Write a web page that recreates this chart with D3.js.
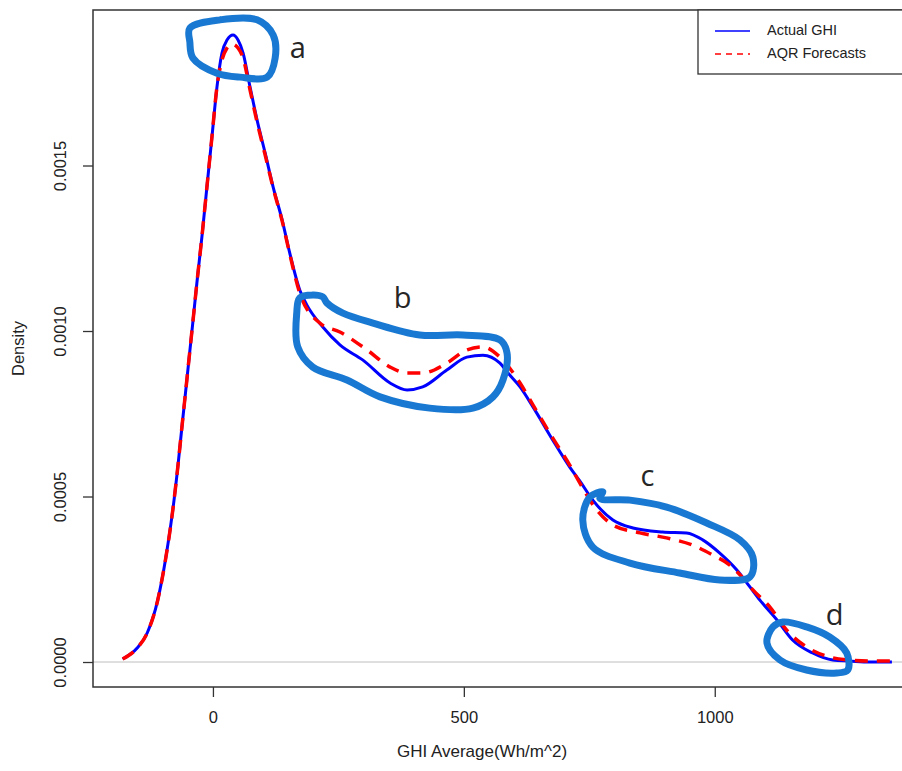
<!DOCTYPE html>
<html>
<head>
<meta charset="utf-8">
<script src="https://cdn.jsdelivr.net/npm/d3@7"></script>
<style>
  html, body { margin: 0; padding: 0; background: #fff; }
  svg { display: block; font-family: "Liberation Sans", Arial, sans-serif; }
</style>
</head>
<body>
<div id="chart"></div>
<script>
// density curves (GHI in Wh/m^2, density)
var actualX = [-180, -151, -131, -110, -94, -80, -70, -62, -52, -46, -40, -32, -22, -12, -2, 8, 18, 28, 40, 50, 60, 74, 88, 104, 120, 138, 153, 173, 187, 219, 253, 299, 353, 387, 418, 466, 506, 538, 572, 588, 612, 638, 677, 711, 731, 757, 797, 837, 896, 944, 976, 1010, 1044, 1070, 1090, 1124, 1155, 1195, 1235, 1269, 1309, 1353];
var actualY = [0.0000091, 0.0000423, 0.0000876, 0.000187, 0.000314, 0.000459, 0.000589, 0.000707, 0.000852, 0.000940, 0.001027, 0.001145, 0.001284, 0.001435, 0.001586, 0.001737, 0.001840, 0.001879, 0.001894, 0.001879, 0.001840, 0.001737, 0.001637, 0.001538, 0.001435, 0.001335, 0.001236, 0.001124, 0.001079, 0.001012, 0.000958, 0.000912, 0.000843, 0.000822, 0.000831, 0.000882, 0.000921, 0.000927, 0.000903, 0.000873, 0.000831, 0.000770, 0.000671, 0.000589, 0.000547, 0.000489, 0.000429, 0.000405, 0.000393, 0.000390, 0.000369, 0.000329, 0.000278, 0.000227, 0.000187, 0.000127, 0.0000665, 0.0000272, 0.000006, 0.000003, 0, 0];

var forecastX = [-180, -151, -131, -110, -94, -80, -70, -62, -52, -46, -40, -32, -22, -12, -2, 8, 18, 28, 38, 50, 60, 74, 88, 104, 120, 138, 153, 173, 213, 253, 307, 353, 387, 418, 466, 506, 538, 572, 612, 638, 677, 711, 731, 765, 797, 851, 904, 956, 996, 1030, 1056, 1076, 1110, 1143, 1183, 1229, 1269, 1309, 1353];
var forecastY = [0.0000091, 0.0000423, 0.0000876, 0.000187, 0.000314, 0.000459, 0.000589, 0.000707, 0.000852, 0.000940, 0.001027, 0.001145, 0.001284, 0.001435, 0.001586, 0.001737, 0.001819, 0.001855, 0.001867, 0.001855, 0.001825, 0.001728, 0.001631, 0.001532, 0.001432, 0.001332, 0.001233, 0.001115, 0.001024, 0.000997, 0.000943, 0.000891, 0.000873, 0.000873, 0.000903, 0.000943, 0.000952, 0.000921, 0.000843, 0.000776, 0.000677, 0.000595, 0.000541, 0.000459, 0.000414, 0.000390, 0.000375, 0.000353, 0.000323, 0.000293, 0.000254, 0.000218, 0.000166, 0.0000967, 0.0000453, 0.0000151, 0.000006, 0.000003, 0.000003];

var xTicks = [0, 500, 1000];
var xTickLabels = ["0", "500", "1000"];
var yTicks = [0, 0.0005, 0.0010, 0.0015];
var yTickLabels = ["0.0000", "0.0005", "0.0010", "0.0015"];
var seriesNames = ["Actual GHI", "AQR Forecasts"];

// hand-drawn highlight loops, in data units
var loopA = [[-46, 0.001915], [14, 0.00194], [88, 0.00194], [120, 0.001894], [124, 0.001825], [108, 0.001767], [54, 0.001767], [8, 0.001779], [-40, 0.001825], [-46, 0.001873]];
var loopB = [[219, 0.001103], [199, 0.001109], [173, 0.0011], [167, 0.001054], [169, 0.000952], [199, 0.000891], [267, 0.000852], [333, 0.000801], [432, 0.000767], [518, 0.000767], [558, 0.000801], [578, 0.000852], [586, 0.000934], [572, 0.000973], [498, 0.000988], [412, 0.000988], [319, 0.001024], [259, 0.001054], [227, 0.001085]];
var loopC = [[777, 0.000514], [751, 0.000498], [737, 0.000429], [757, 0.000347], [831, 0.000299], [930, 0.000269], [1010, 0.000248], [1070, 0.000257], [1076, 0.000317], [1050, 0.000369], [984, 0.00042], [904, 0.000468], [831, 0.000489], [771, 0.000495]];
var loopD = [[1116, 0.000106], [1136, 0.000121], [1183, 0.000106], [1229, 0.0000755], [1263, 0.0000272], [1265, -0.0000242], [1243, -0.0000332], [1183, -0.0000242], [1130, 0.000006], [1104, 0.0000574]];
var letters = ["a", "b", "c", "d"];
var letterX = [169, 378, 866, 1239];
var letterY = [0.001849, 0.001094, 0.000556, 0.000136];

var width = 902;
var height = 771;
var margin = {top: 10, right: -18, bottom: 84, left: 93};

var svg = d3.select("#chart")
  .append("svg")
  .attr("width", width)
  .attr("height", height);

var x = d3.scaleLinear()
  .domain([-239, 1409])
  .range([margin.left, width - margin.right]);

var y = d3.scaleLinear()
  .domain([-0.0000755, 0.0019698])
  .range([height - margin.bottom, margin.top]);

// zero line
svg.append("line")
  .attr("x1", margin.left).attr("x2", width)
  .attr("y1", y(0)).attr("y2", y(0))
  .attr("stroke", "#bebebe")
  .attr("stroke-width", 1);

var line = d3.line()
  .x(d => x(d[0]))
  .y(d => y(d[1]))
  .curve(d3.curveMonotoneX);

svg.append("path")
  .datum(actualX.map((v, i) => [v, actualY[i]]))
  .attr("fill", "none")
  .attr("stroke", "#0000ff")
  .attr("stroke-width", 3)
  .attr("stroke-linejoin", "round")
  .attr("d", line);

svg.append("path")
  .datum(forecastX.map((v, i) => [v, forecastY[i]]))
  .attr("fill", "none")
  .attr("stroke", "#ff0000")
  .attr("stroke-width", 3.5)
  .attr("stroke-dasharray", "13,9")
  .attr("d", line);

// axes
var xAxis = g => g
  .attr("transform", `translate(0,${height - margin.bottom})`)
  .call(d3.axisBottom(x).tickValues(xTicks).tickFormat((d, i) => xTickLabels[i]).tickSize(10).tickPadding(14).tickSizeOuter(0))
  .call(g => g.select(".domain").remove())
  .call(g => g.selectAll(".tick line").attr("stroke", "#333").attr("stroke-width", 1.3))
  .call(g => g.selectAll(".tick text")
    .attr("fill", "#222")
    .style("font-size", "16.5px")
    .style("font-family", "Liberation Sans, Arial, sans-serif"));

var yAxis = g => g
  .attr("transform", `translate(${margin.left},0)`)
  .call(d3.axisLeft(y).tickValues(yTicks).tickFormat((d, i) => yTickLabels[i]).tickSize(10).tickSizeOuter(0))
  .call(g => g.select(".domain").remove())
  .call(g => g.selectAll(".tick line").attr("stroke", "#333").attr("stroke-width", 1.3))
  .call(g => g.selectAll(".tick text")
    .attr("x", 0).attr("dy", null)
    .attr("transform", "translate(-31,0) rotate(-90)")
    .attr("text-anchor", "middle")
    .attr("dominant-baseline", "middle")
    .attr("fill", "#222")
    .style("font-size", "16.5px")
    .style("font-family", "Liberation Sans, Arial, sans-serif"));

svg.append("g").call(xAxis);
svg.append("g").call(yAxis);

// plot box
svg.append("rect")
  .attr("x", margin.left)
  .attr("y", margin.top)
  .attr("width", width - margin.right - margin.left)
  .attr("height", height - margin.bottom - margin.top)
  .attr("fill", "none")
  .attr("stroke", "#333")
  .attr("stroke-width", 1.5);

svg.append("text")
  .attr("x", 482)
  .attr("y", 753)
  .attr("text-anchor", "middle")
  .attr("dominant-baseline", "middle")
  .attr("fill", "#222")
  .style("font-size", "17px")
  .text("GHI Average(Wh/m^2)");

svg.append("text")
  .attr("transform", `translate(20,${(margin.top + height - margin.bottom) / 2}) rotate(-90)`)
  .attr("text-anchor", "middle")
  .attr("dominant-baseline", "middle")
  .attr("fill", "#222")
  .style("font-size", "16.5px")
  .text("Density");

// legend
var legend = svg.append("g").attr("transform", "translate(698,10)");
legend.append("rect")
  .attr("width", 230).attr("height", 64)
  .attr("fill", "#fff")
  .attr("stroke", "#333")
  .attr("stroke-width", 1.3);
var legColors = ["#0000ff", "#ff0000"];
var legDash = [null, "6,5"];
seriesNames.forEach(function (name, i) {
  var ly = 21 + i * 23;
  legend.append("line")
    .attr("x1", 17).attr("x2", 52)
    .attr("y1", ly).attr("y2", ly)
    .attr("stroke", legColors[i])
    .attr("stroke-width", 1.5)
    .attr("stroke-dasharray", legDash[i]);
  legend.append("text")
    .attr("x", 69).attr("y", ly)
    .attr("dominant-baseline", "middle")
    .attr("fill", "#222")
    .style("font-size", "14.5px")
    .text(name);
});

// highlight loops and letters
var loopLine = d3.line()
  .x(d => x(d[0]))
  .y(d => y(d[1]))
  .curve(d3.curveCatmullRomClosed.alpha(0.5));

[loopA, loopB, loopC, loopD].forEach(function (pts) {
  svg.append("path")
    .datum(pts)
    .attr("fill", "none")
    .attr("stroke", "#1979d2")
    .attr("stroke-width", 7)
    .attr("stroke-linejoin", "round")
    .attr("stroke-linecap", "round")
    .attr("d", loopLine);
});

letters.forEach(function (t, i) {
  svg.append("text")
    .attr("x", x(letterX[i]))
    .attr("y", y(letterY[i]))
    .attr("text-anchor", "middle")
    .attr("dominant-baseline", "middle")
    .attr("fill", "#262626")
    .style("font-family", "Open Sans, sans-serif")
    .style("font-size", "29px")
    .text(t);
});
</script>
</body>
</html>
